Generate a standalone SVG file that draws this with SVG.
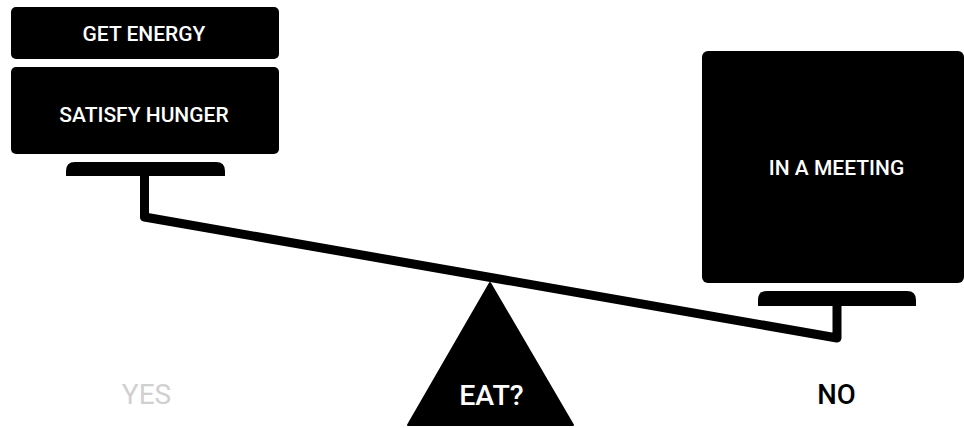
<svg xmlns="http://www.w3.org/2000/svg" width="964" height="428" viewBox="0 0 964 428">
<style>
.box{fill:#000}
.lbl{font-family:Roboto,"Liberation Sans",sans-serif;font-weight:500;text-anchor:middle;fill:#fff}
.beam{fill:none;stroke:#000;stroke-width:9;stroke-linejoin:round;stroke-linecap:butt}
</style>
<rect width="964" height="428" fill="#fff"/>
<g id="connectors">
<polyline class="beam" points="144.5,176 144.5,217 837,338 837,305"/>
</g>
<g id="plate-left"><path class="box" d="M66,176 L66,171 Q66,162 75,162 L216,162 Q225,162 225,171 L225,176 Z"/></g>
<g id="plate-right"><path class="box" d="M758,306 L758,300 Q758,291 767,291 L907,291 Q916,291 916,300 L916,306 Z"/></g>
<g id="get-energy">
<rect class="box" x="11" y="7" width="268" height="52" rx="5"/>
<text class="lbl" x="144" y="41" font-size="21">GET ENERGY</text>
</g>
<g id="satisfy-hunger">
<rect class="box" x="11" y="67" width="268" height="87" rx="5"/>
<text class="lbl" x="144" y="121.5" font-size="21">SATISFY HUNGER</text>
</g>
<g id="in-a-meeting">
<rect class="box" x="702" y="51" width="262" height="232" rx="6"/>
<text class="lbl" x="836.5" y="174.5" font-size="21">IN A MEETING</text>
</g>
<g id="eat">
<path class="box" d="M490,283 L573,425 L408,425 Z" stroke="#000" stroke-width="2" stroke-linejoin="round"/>
<text class="lbl" x="491.5" y="405" font-size="28.5">EAT?</text>
</g>
<g id="yes"><text class="lbl" x="146.5" y="404" font-size="28" style="fill:#d0d0d0;font-weight:400">YES</text></g>
<g id="no"><text class="lbl" x="836.5" y="404" font-size="27.5" style="fill:#000">NO</text></g>
</svg>
